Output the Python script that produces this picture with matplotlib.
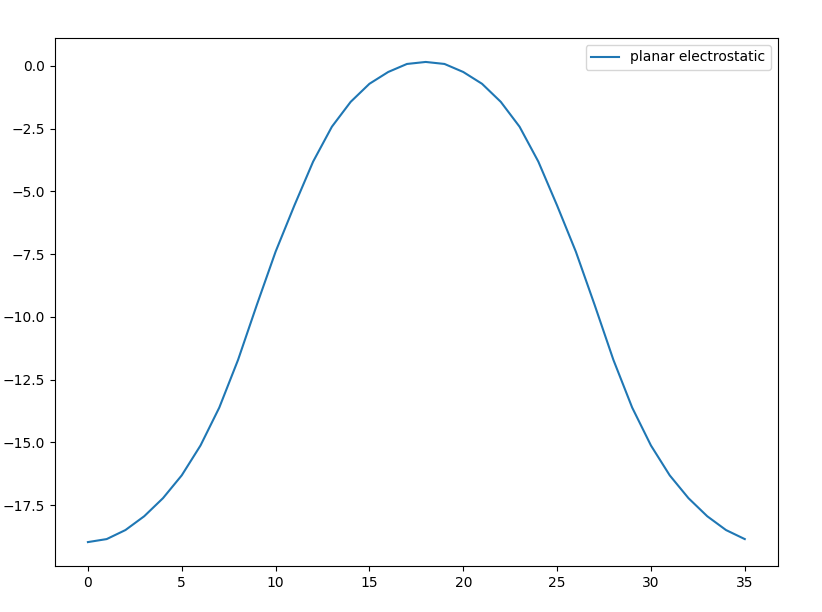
import matplotlib
matplotlib.use("Agg")
import matplotlib.pyplot as plt

x_values = list(range(36))
energy = [-18.97, -18.85, -18.49, -17.94, -17.22, -16.31, -15.12, -13.61, -11.71, -9.52,
          -7.40, -5.56, -3.81, -2.42, -1.43, -0.71, -0.24, 0.08, 0.16, 0.08,
          -0.24, -0.71, -1.43, -2.42, -3.81, -5.56, -7.40, -9.52, -11.71, -13.61,
          -15.12, -16.31, -17.22, -17.94, -18.49, -18.85]
series_label = "planar electrostatic"

fig, ax = plt.subplots(figsize=(8.22, 6.12), dpi=100)
fig.subplots_adjust(left=0.067, right=0.946, top=0.938, bottom=0.075)
ax.plot(x_values, energy, label=series_label)
ax.legend(loc="upper right")
fig.savefig("out.png", dpi=100)
